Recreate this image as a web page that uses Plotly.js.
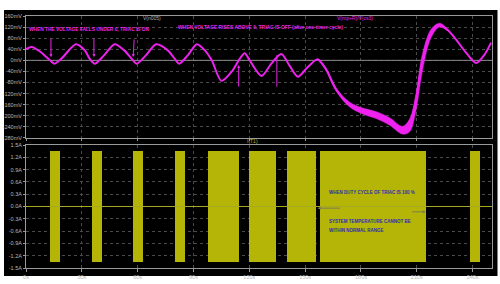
<!DOCTYPE html>
<html><head><meta charset="utf-8">
<script src="https://cdn.plot.ly/plotly-3.0.1.min.js"></script>
<style>html,body{margin:0;padding:0;background:#fff;}#chart{width:500px;height:284px;}</style>
</head><body><div id="chart"></div>
<script>
// ---- data (time in s, voltage in mV, current in A) ----
const vT = [0, 3, 7.5, 12.9, 15.2, 19.3, 26.8, 31.6, 34.3, 37.0, 41.9, 47.7, 52.8, 56.9, 59.5, 64.4, 70.0, 76.2, 80, 82.3, 86.9, 91.8, 96.1, 99.8, 105, 110.6, 114.3, 117.5, 120.2, 126.5, 132, 137.2, 141.7, 146.1, 151.3, 156.7, 161, 166.8, 173.9, 181.9, 188.2, 195.4, 202.3, 206.1, 209.3, 213.1, 217.7, 222.2, 226.5, 231.2, 236.2, 241.9, 246.3, 249.9];
const vMV = [40, 48, 32, 0, -12, 8, 58, 36, 5, -12, 18, 58, 36, 5, -12, 18, 58, 36, 5, -12, 18, 58, 36, 0, -74, -40, 0, 26, 0, -56, -10, 23, -20, -59, -25, 4, -30, -107, -160, -185, -197, -220, -250, -230, -150, 0, 98, 128, 110, 74, 30, -10, 20, 64];
// ripple envelope of the thick section
const bandT = [156.7, 161, 166.8, 173.9, 181.9, 188.2, 195.4, 202.3, 206.1, 209.3, 213.1, 217.7, 222.2, 226.5];
const bandHi = [5, -26, -101, -151, -174, -185, -207, -238, -212, -130, 25, 112, 134, 113];
const bandLo = [3, -33, -112, -168, -196, -210, -234, -266, -258, -190, -35, 82, 120, 106];
// grey reference trace V(n005)
const refT = [0, 250.4];
const refV = [0, 0];
// triac current I(T1): conduction intervals
const onStart = [12.9, 35.6, 57.6, 80.3, 97.8, 120.0, 140.2, 158.2, 238.8];
const onEnd   = [18.2, 40.6, 63.0, 85.7, 114.3, 134.5, 156.0, 215.0, 244.0];
const iPeak = 1.36;
const offT = [0, 250.4];
const offI = [0, 0];
// ticks
const xTickVals = [0, 30, 60, 90, 120, 150, 180, 210, 240];
const xTickText = ['0s', '30s', '60s', '90s', '120s', '150s', '180s', '210s', '240s'];
const vTickVals = [160, 120, 80, 40, 0, -40, -80, -120, -160, -200, -240, -280];
const vTickText = ['160mV', '120mV', '80mV', '40mV', '0mV', '-40mV', '-80mV', '-120mV', '-160mV', '-200mV', '-240mV', '-280mV'];
const iTickVals = [1.5, 1.2, 0.9, 0.6, 0.3, 0, -0.3, -0.6, -0.9, -1.2, -1.5];
const iTickText = ['1.5A', '1.2A', '0.9A', '0.6A', '0.3A', '0.0A', '-0.3A', '-0.6A', '-0.9A', '-1.2A', '-1.5A'];

const MAG = '#ee22ee';
const OLIVE = '#b5b508';
const FONT = 'Liberation Sans, Arial, sans-serif';

const traces = [
  {x: refT, y: refV, xaxis: 'x2', yaxis: 'y2', mode: 'lines', line: {color: '#8a8a8a', width: 1}, hoverinfo: 'skip'},
  {x: bandT, y: bandHi, xaxis: 'x2', yaxis: 'y2', mode: 'lines', line: {color: MAG, width: 0.5, shape: 'spline'}, hoverinfo: 'skip'},
  {x: bandT, y: bandLo, xaxis: 'x2', yaxis: 'y2', mode: 'lines', fill: 'tonexty', fillcolor: MAG, line: {color: MAG, width: 0.5, shape: 'spline'}, hoverinfo: 'skip'},
  {x: vT, y: vMV, xaxis: 'x2', yaxis: 'y2', mode: 'lines', line: {color: MAG, width: 2, shape: 'spline', smoothing: 0.8}, hoverinfo: 'skip'},
  {x: offT, y: offI, xaxis: 'x', yaxis: 'y', mode: 'lines', line: {color: '#a8a820', width: 1}, hoverinfo: 'skip'},
  {type: 'bar', xaxis: 'x', yaxis: 'y',
   x: onStart.map((s, i) => (s + onEnd[i]) / 2),
   width: onStart.map((s, i) => onEnd[i] - s),
   base: onStart.map(() => -iPeak),
   y: onStart.map(() => 2 * iPeak),
   marker: {color: OLIVE, line: {width: 0}}, hoverinfo: 'skip'}
];

const axCommon = {
  showgrid: true, gridcolor: '#4a4a4a', griddash: 'dot', gridwidth: 1,
  zeroline: false, showline: true, mirror: true, linecolor: '#9a9a9a', linewidth: 1,
  ticks: 'outside', ticklen: 2, tickcolor: '#9a9a9a',
  tickfont: {family: FONT, size: 5.5, color: '#b8b8b8'}
};

const layout = {
  width: 500, height: 284,
  margin: {l: 26, r: 7.5, t: 16, b: 16},
  paper_bgcolor: '#ffffff', plot_bgcolor: '#000000',
  showlegend: false, bargap: 0,
  xaxis: Object.assign({}, axCommon, {anchor: 'y', domain: [0, 1], range: [0, 250.4], tickvals: xTickVals, ticktext: xTickText, ticklen: 3}),
  yaxis: Object.assign({}, axCommon, {anchor: 'x', domain: [0, 0.488], range: [-1.5, 1.5], tickvals: iTickVals, ticktext: iTickText}),
  xaxis2: Object.assign({}, axCommon, {anchor: 'y2', domain: [0, 1], range: [0, 250.4], tickvals: xTickVals, showticklabels: false, ticklen: 2}),
  yaxis2: Object.assign({}, axCommon, {anchor: 'x2', domain: [0.516, 1], range: [-280, 160], tickvals: vTickVals, ticktext: vTickText}),
  shapes: [
    {type: 'rect', xref: 'paper', yref: 'paper', x0: -0.0472, x1: 1.0118, y0: -0.0317, y1: 1.0238,
     fillcolor: '#000000', line: {width: 0}, layer: 'below'}
  ],
  annotations: [
    {xref: 'paper', yref: 'paper', x: 0.2476, y: 1.012, text: 'V(n005)', showarrow: false, font: {family: FONT, size: 5, color: '#b0b0b0'}},
    {xref: 'paper', yref: 'paper', x: 0.749, y: 1.012, text: 'V(mp+R)/V(cs3)', showarrow: false, font: {family: FONT, size: 5, color: MAG}},
    {xref: 'paper', yref: 'paper', x: 0.486, y: 0.502, text: 'I(T1)', showarrow: false, font: {family: FONT, size: 5, color: '#b5b540'}},
    {xref: 'x2', yref: 'y2', x: 0.8, y: 110, xanchor: 'left', text: '<b>WHEN THE VOLTAGE FALLS UNDER 0, TRIAC IS ON</b>', showarrow: false, font: {family: FONT, size: 4.8, color: MAG}},
    {xref: 'x2', yref: 'y2', x: 80.5, y: 117, xanchor: 'left', text: '<b>WHEN VOLTAGE RISES ABOVE 0, TRIAC IS OFF (after one timer cycle)</b>', showarrow: false, font: {family: FONT, size: 4.9, color: MAG}},
    // magenta arrows
    {xref: 'x2', yref: 'y2', x: 13.4, y: 12, ax: 0, ay: -20, text: '', showarrow: true, arrowhead: 2, arrowsize: 0.6, arrowwidth: 1, arrowcolor: MAG},
    {xref: 'x2', yref: 'y2', x: 36.5, y: 12, ax: 0, ay: -20, text: '', showarrow: true, arrowhead: 2, arrowsize: 0.6, arrowwidth: 1, arrowcolor: MAG},
    {xref: 'x2', yref: 'y2', x: 57.6, y: 12, ax: 1, ay: -19, text: '', showarrow: true, arrowhead: 2, arrowsize: 0.6, arrowwidth: 1, arrowcolor: MAG},
    {xref: 'x2', yref: 'y2', x: 114.3, y: -17, ax: 0, ay: 23, text: '', showarrow: true, arrowhead: 2, arrowsize: 0.6, arrowwidth: 1, arrowcolor: MAG},
    {xref: 'x2', yref: 'y2', x: 134.8, y: 19, ax: 0, ay: 33, text: '', showarrow: true, arrowhead: 0, arrowsize: 0.6, arrowwidth: 1, arrowcolor: MAG},
    // blue notes in lower panel
    {xref: 'x', yref: 'y', x: 161.5, y: 0.35, xanchor: 'left', text: '<b>WHEN DUTY CYCLE OF TRIAC IS 100 %</b>', showarrow: false, font: {family: FONT, size: 4.5, color: '#2c2cb0'}},
    {xref: 'x', yref: 'y', x: 161.5, y: -0.37, xanchor: 'left', text: '<b>SYSTEM TEMPERATURE CANNOT BE</b>', showarrow: false, font: {family: FONT, size: 4.5, color: '#2c2cb0'}},
    {xref: 'x', yref: 'y', x: 161.5, y: -0.58, xanchor: 'left', text: '<b>WITHIN NORMAL RANGE</b>', showarrow: false, font: {family: FONT, size: 4.5, color: '#2c2cb0'}},
    {xref: 'x', yref: 'y', x: 156.8, y: -0.04, ax: 24, ay: 0, text: '', showarrow: true, arrowhead: 2, arrowsize: 0.6, arrowwidth: 1, arrowcolor: '#7c7c50'},
    {xref: 'x', yref: 'y', x: 214.8, y: -0.13, ax: -15, ay: 0, text: '', showarrow: true, arrowhead: 2, arrowsize: 0.6, arrowwidth: 1, arrowcolor: '#7c7c50'}
  ]
};

Plotly.newPlot('chart', traces, layout, {staticPlot: true, displayModeBar: false});
</script>
</body></html>
